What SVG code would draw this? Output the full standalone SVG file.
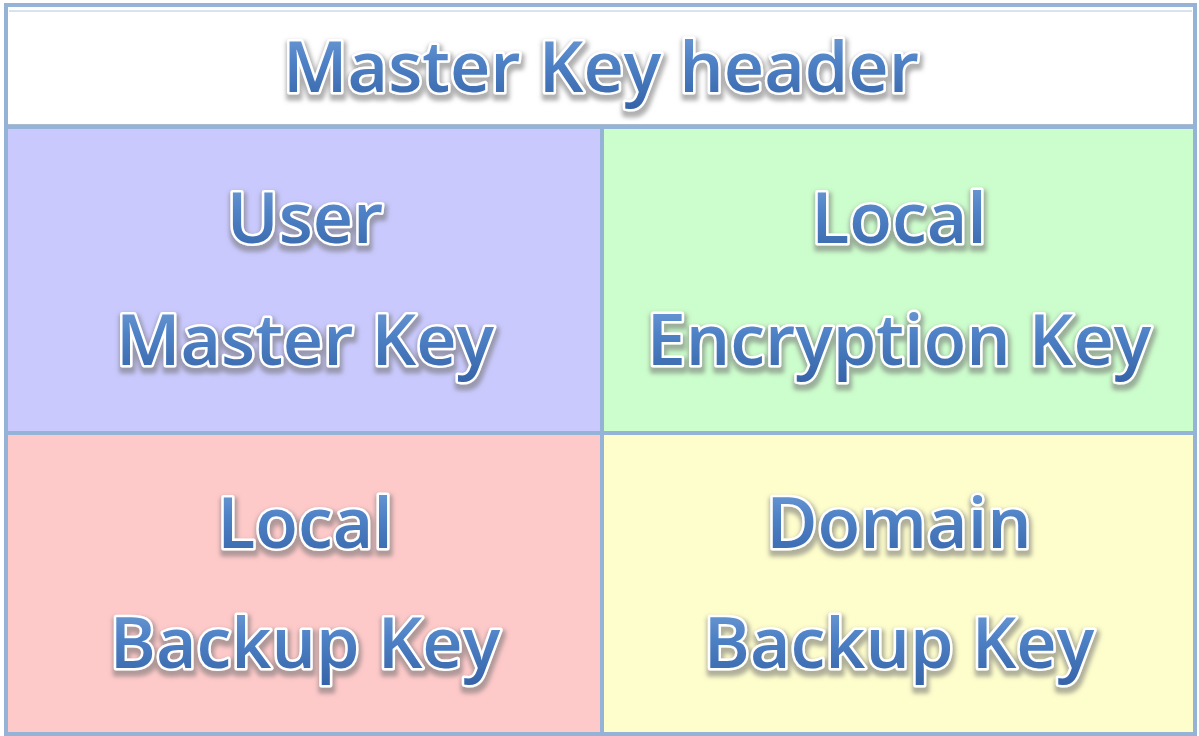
<svg xmlns="http://www.w3.org/2000/svg" width="1199" height="736" viewBox="0 0 1199 736">
<defs>
<linearGradient id="tg" x1="0" y1="0" x2="0" y2="1">
<stop offset="0" stop-color="#7ea6dc"/>
<stop offset="0.45" stop-color="#4f82c6"/>
<stop offset="1" stop-color="#3461a6"/>
</linearGradient>
<filter id="sh" x="-10%" y="-30%" width="120%" height="170%">
<feMorphology in="SourceAlpha" operator="dilate" radius="2" result="d"/>
<feGaussianBlur in="d" stdDeviation="2"/>
<feOffset dx="1" dy="4" result="b"/>
<feFlood flood-color="#707070" flood-opacity="0.55"/>
<feComposite in2="b" operator="in"/>
<feMerge><feMergeNode/><feMergeNode in="SourceGraphic"/></feMerge>
</filter>
</defs>
<style>
.t{font-family:"Open Sans","DejaVu Sans",sans-serif;font-weight:600;font-size:70px;text-anchor:middle;fill:url(#tg);stroke:#ffffff;stroke-width:5px;paint-order:stroke;stroke-linejoin:round;filter:url(#sh)}
.cell{stroke:#95b3d7;stroke-width:4}
</style>
<rect x="0" y="0" width="1199" height="736" fill="#ffffff"/>
<g id="header">
<rect class="cell" x="6" y="5" width="1189" height="121" fill="#ffffff"/>
<rect x="9" y="10" width="1183" height="2" fill="#d9e3ef"/>
<rect x="8" y="124" width="1185" height="3" fill="#a9bccf"/>
<text class="t" x="601" y="92">Master Key header</text>
</g>
<g id="user-master-key">
<rect class="cell" x="6" y="127" width="596" height="306" fill="#c9c9fd"/>
<text class="t" x="305" y="243">User</text>
<text class="t" x="305" y="365">Master Key</text>
</g>
<g id="local-encryption-key">
<rect class="cell" x="602" y="127" width="593" height="306" fill="#ccfdcc"/>
<text class="t" x="899" y="243">Local</text>
<text class="t" x="899" y="365">Encryption Key</text>
</g>
<g id="local-backup-key">
<rect class="cell" x="6" y="433" width="596" height="301" fill="#fec9c9"/>
<text class="t" x="305" y="548">Local</text>
<text class="t" x="305" y="668">Backup Key</text>
</g>
<g id="domain-backup-key">
<rect class="cell" x="602" y="433" width="593" height="301" fill="#fefdcc"/>
<text class="t" x="899" y="548">Domain</text>
<text class="t" x="899" y="668">Backup Key</text>
</g>
<g id="connectors"/>
</svg>
